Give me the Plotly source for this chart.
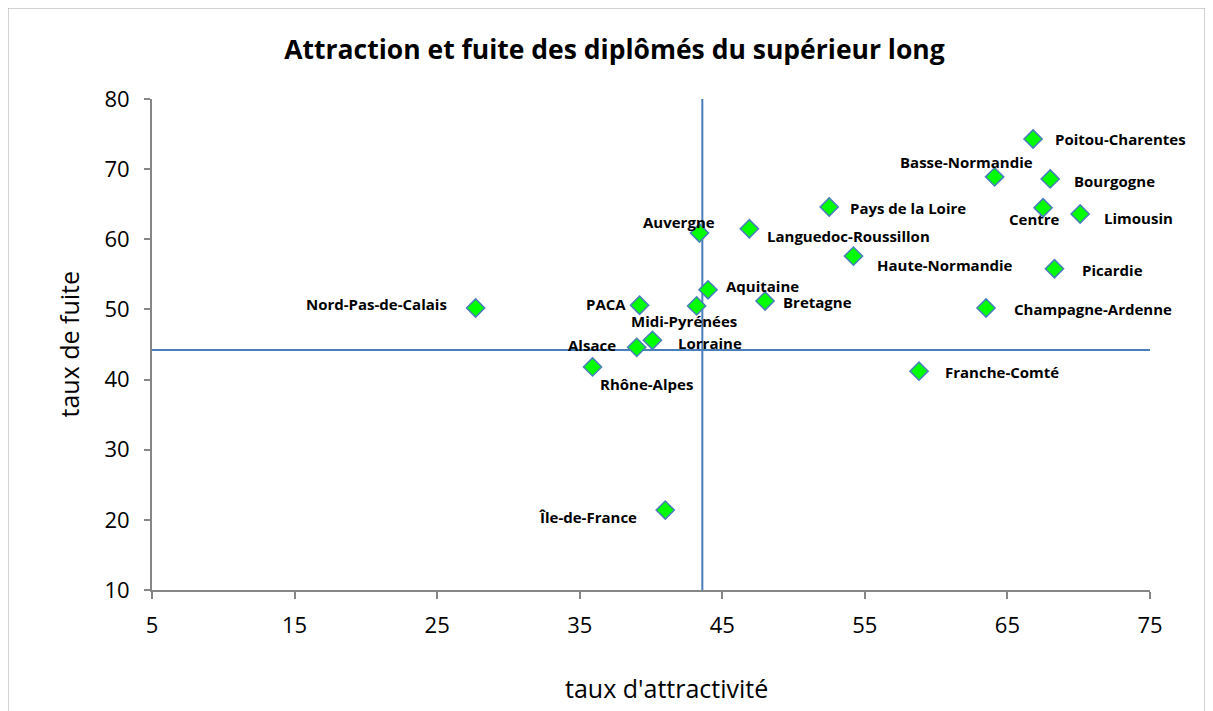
import plotly.graph_objects as go

# Regions, attraction rate (x) and leak rate (y)
regions = [
    "Poitou-Charentes", "Basse-Normandie", "Bourgogne", "Centre", "Limousin",
    "Picardie", "Champagne-Ardenne", "Franche-Comté", "Pays de la Loire",
    "Languedoc-Roussillon", "Haute-Normandie", "Auvergne", "Aquitaine",
    "Bretagne", "Midi-Pyrénées", "PACA", "Lorraine", "Alsace", "Rhône-Alpes",
    "Nord-Pas-de-Calais", "Île-de-France",
]
attractivite = [
    66.8, 64.1, 68.0, 67.5, 70.1,
    68.3, 63.5, 58.8, 52.5,
    46.9, 54.2, 43.4, 44.0,
    48.0, 43.2, 39.2, 40.1, 39.0, 35.9,
    27.7, 41.0,
]
fuite = [
    74.3, 68.9, 68.6, 64.5, 63.6,
    55.8, 50.2, 41.2, 64.6,
    61.5, 57.6, 60.9, 52.8,
    51.2, 50.5, 50.6, 45.6, 44.6, 41.8,
    50.2, 21.4,
]

# Reference lines (means)
mean_attractivite = 43.6
mean_fuite = 44.2

x_ticks = [5, 15, 25, 35, 45, 55, 65, 75]
y_ticks = [10, 20, 30, 40, 50, 60, 70, 80]

# label placement: (xanchor, xshift, yshift) in pixels
label_pos = {
    "Poitou-Charentes": ("left", 20, 0),
    "Basse-Normandie": ("right", 40, 15),
    "Bourgogne": ("left", 22, -2),
    "Centre": ("center", -9, -11),
    "Limousin": ("left", 22, -4),
    "Picardie": ("left", 26, -1),
    "Champagne-Ardenne": ("left", 26, -1),
    "Franche-Comté": ("left", 24, -1),
    "Pays de la Loire": ("left", 19, -1),
    "Languedoc-Roussillon": ("left", 16, -7),
    "Haute-Normandie": ("left", 22, -9),
    "Auvergne": ("center", -20, 11),
    "Aquitaine": ("left", 16, 4),
    "Bretagne": ("left", 16, -1),
    "Midi-Pyrénées": ("center", -13, -15),
    "PACA": ("right", -12, 1),
    "Lorraine": ("center", 58, -3),
    "Alsace": ("right", -19, 2),
    "Rhône-Alpes": ("center", 54, -17),
    "Nord-Pas-de-Calais": ("right", -27, 4),
    "Île-de-France": ("right", -26, -7),
}

font = "'Open Sans', 'Noto Sans', sans-serif"
line_blue = "#4A7EBB"
axis_gray = "#868686"

fig = go.Figure()

fig.add_trace(go.Scatter(
    x=[mean_attractivite, mean_attractivite], y=[10, 80],
    mode="lines", line=dict(color=line_blue, width=2),
    showlegend=False, hoverinfo="none",
))
fig.add_trace(go.Scatter(
    x=[5, 75], y=[mean_fuite, mean_fuite],
    mode="lines", line=dict(color=line_blue, width=2),
    showlegend=False, hoverinfo="none",
))

fig.add_trace(go.Scatter(
    x=attractivite, y=fuite, text=regions,
    mode="markers",
    marker=dict(symbol="diamond", size=14, color="#00FF00",
                line=dict(color=line_blue, width=1.5)),
    showlegend=False,
    hovertemplate="<b>%{text}</b><br>%{x} / %{y}<extra></extra>",
    cliponaxis=False,
))

for name, xv, yv in zip(regions, attractivite, fuite):
    anchor, dx, dy = label_pos[name]
    fig.add_annotation(
        text=f"<b>{name}</b>", x=xv, y=yv, xref="x", yref="y",
        xanchor=anchor, yanchor="middle", xshift=dx, yshift=dy,
        showarrow=False, font=dict(family=font, size=15, color="black"),
    )

# axis titles
fig.add_annotation(
    text="taux de fuite", textangle=-90, x=0, y=0.5, xref="paper", yref="paper",
    xanchor="center", yanchor="middle",
    xshift=-84, showarrow=False, font=dict(family=font, size=25, color="black"),
)
fig.add_annotation(
    text="taux d'attractivité", x=0.516, y=0, xref="paper", yref="paper",
    xanchor="center", yanchor="middle",
    yshift=-98, showarrow=False, font=dict(family=font, size=25, color="black"),
)

# chart border
fig.add_shape(
    type="rect", xref="paper", yref="paper",
    x0=-0.1443, x1=1.0551, y0=-0.3, y1=1.1853,
    line=dict(color="#A6A6A6", width=1), fillcolor="rgba(0,0,0,0)",
)

# page body adds an 8px offset, so margins are shifted by 8
fig.update_layout(
    width=1213,
    height=711,
    plot_bgcolor="white",
    paper_bgcolor="white",
    margin=dict(l=144, r=71, t=91, b=129),
    title=dict(
        text="<b>Attraction et fuite des diplômés du supérieur long</b>",
        x=0.5, xref="container", xanchor="center",
        y=1 - 42 / 711, yref="container", yanchor="middle",
        font=dict(family=font, size=26.5, color="black"),
    ),
    xaxis=dict(
        range=[5, 75], tickvals=x_ticks, showgrid=False, zeroline=False,
        showline=True, linecolor=axis_gray, linewidth=2,
        ticks="outside", ticklen=7, tickcolor=axis_gray, tickwidth=1.5,
        ticklabelstandoff=8,
        tickfont=dict(family=font, size=22, color="black"),
    ),
    yaxis=dict(
        range=[10, 80], tickvals=y_ticks, showgrid=False, zeroline=False,
        showline=True, linecolor=axis_gray, linewidth=2,
        ticks="outside", ticklen=6, tickcolor=axis_gray, tickwidth=1.5,
        ticklabelstandoff=10,
        tickfont=dict(family=font, size=22, color="black"),
    ),
)

fig.write_html("out.html")
